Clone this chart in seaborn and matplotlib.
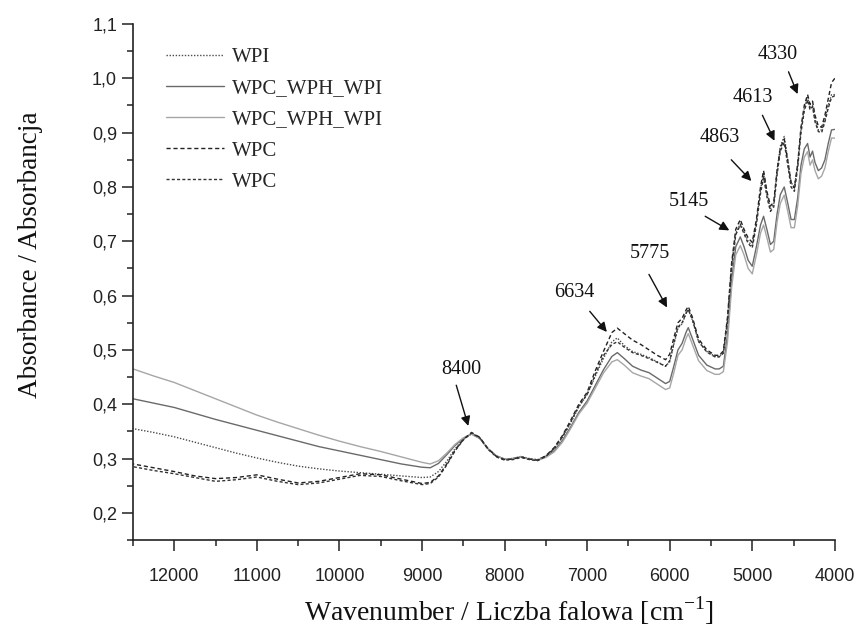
import matplotlib
matplotlib.use("Agg")
import matplotlib.pyplot as plt
import seaborn as sns
from matplotlib.ticker import MultipleLocator, FuncFormatter

# ==========================================
# data
# ==========================================
WN = [12500, 12250, 12000, 11750, 11500, 11250, 11000, 10750, 10500, 10250, 10000, 9750, 9500, 9250, 9000,
      8900, 8800, 8700, 8600, 8500, 8400, 8300, 8200, 8100, 8000, 7900, 7800, 7700, 7600, 7500, 7400, 7300, 7200, 7100, 7000,
      6900, 6800, 6700,
      6634, 6550, 6450, 6350, 6250, 6150, 6050,
      6000, 5950, 5900, 5850, 5800, 5775, 5725, 5650, 5550, 5450, 5400, 5350, 5300, 5250, 5200, 5145,
      5100, 5050, 5000, 4950, 4900, 4863, 4820, 4780, 4740, 4700, 4660, 4613,
      4570, 4530, 4490, 4450, 4410, 4370, 4330,
      4300, 4270, 4240, 4200, 4160, 4120, 4080, 4040, 4000]

WPI = [0.355, 0.348, 0.340, 0.330, 0.320, 0.310, 0.301, 0.293, 0.286, 0.281, 0.277, 0.274, 0.271, 0.268, 0.265,
       0.266, 0.276, 0.295, 0.318, 0.336, 0.346, 0.338, 0.318, 0.305, 0.299, 0.300, 0.304, 0.300, 0.298, 0.305, 0.318, 0.338, 0.365, 0.395, 0.418,
       0.452, 0.485, 0.515,
       0.522, 0.508, 0.497, 0.492, 0.486, 0.478, 0.470,
       0.478, 0.510, 0.540, 0.548, 0.568, 0.575, 0.555, 0.515, 0.497, 0.488, 0.488, 0.495, 0.555, 0.655, 0.715, 0.732,
       0.718, 0.700, 0.692, 0.735, 0.795, 0.825, 0.785, 0.760, 0.768, 0.830, 0.875, 0.893,
       0.850, 0.808, 0.800, 0.840, 0.905, 0.945, 0.965,
       0.945, 0.950, 0.925, 0.905, 0.905, 0.925, 0.950, 0.970, 0.970]

MIX_DARK = [0.410, 0.402, 0.394, 0.383, 0.372, 0.362, 0.352, 0.342, 0.332, 0.322, 0.314, 0.306, 0.298, 0.290, 0.284,
            0.283, 0.291, 0.307, 0.324, 0.337, 0.345, 0.337, 0.318, 0.305, 0.299, 0.300, 0.303, 0.299, 0.297, 0.303, 0.314, 0.333, 0.358, 0.385, 0.406,
            0.435, 0.464, 0.488,
            0.495, 0.484, 0.470, 0.463, 0.458, 0.448, 0.438,
            0.442, 0.470, 0.500, 0.512, 0.533, 0.541, 0.521, 0.490, 0.472, 0.465, 0.465, 0.470, 0.528, 0.628, 0.690, 0.708,
            0.690, 0.665, 0.654, 0.690, 0.730, 0.746, 0.720, 0.694, 0.700, 0.750, 0.786, 0.800,
            0.770, 0.740, 0.740, 0.780, 0.840, 0.870, 0.880,
            0.855, 0.866, 0.845, 0.830, 0.835, 0.850, 0.880, 0.905, 0.906]

MIX_LIGHT = [0.465, 0.452, 0.440, 0.425, 0.410, 0.395, 0.380, 0.367, 0.355, 0.343, 0.332, 0.322, 0.313, 0.303, 0.293,
             0.290, 0.296, 0.310, 0.326, 0.338, 0.345, 0.337, 0.318, 0.305, 0.299, 0.300, 0.303, 0.299, 0.297, 0.302, 0.312, 0.330, 0.355, 0.382, 0.402,
             0.430, 0.458, 0.478,
             0.482, 0.472, 0.458, 0.452, 0.447, 0.437, 0.427,
             0.430, 0.458, 0.490, 0.500, 0.522, 0.530, 0.510, 0.480, 0.462, 0.455, 0.455, 0.460, 0.515, 0.615, 0.675, 0.692,
             0.675, 0.650, 0.640, 0.675, 0.715, 0.730, 0.705, 0.680, 0.685, 0.735, 0.770, 0.785,
             0.755, 0.725, 0.725, 0.765, 0.825, 0.855, 0.865,
             0.840, 0.850, 0.830, 0.815, 0.820, 0.835, 0.865, 0.890, 0.890]

WPC_1 = [0.290, 0.283, 0.276, 0.268, 0.263, 0.265, 0.270, 0.262, 0.255, 0.258, 0.265, 0.272, 0.270, 0.262, 0.254,
         0.256, 0.268, 0.290, 0.315, 0.335, 0.348, 0.339, 0.318, 0.304, 0.298, 0.299, 0.303, 0.299, 0.297, 0.305, 0.320, 0.342, 0.370, 0.400, 0.422,
         0.462, 0.498, 0.532,
         0.540, 0.530, 0.518, 0.510, 0.500, 0.490, 0.482,
         0.492, 0.522, 0.550, 0.558, 0.574, 0.580, 0.560, 0.520, 0.500, 0.490, 0.490, 0.498, 0.560, 0.660, 0.722, 0.740,
         0.722, 0.706, 0.698, 0.740, 0.800, 0.830, 0.790, 0.765, 0.772, 0.830, 0.872, 0.888,
         0.848, 0.808, 0.798, 0.842, 0.910, 0.950, 0.970,
         0.952, 0.958, 0.932, 0.912, 0.910, 0.932, 0.962, 0.992, 1.000]

WPC_2 = [0.285, 0.278, 0.272, 0.265, 0.258, 0.261, 0.266, 0.258, 0.252, 0.255, 0.262, 0.269, 0.267, 0.259, 0.252,
         0.254, 0.266, 0.288, 0.314, 0.334, 0.347, 0.338, 0.317, 0.303, 0.297, 0.298, 0.302, 0.298, 0.296, 0.304, 0.318, 0.340, 0.367, 0.397, 0.418,
         0.455, 0.490, 0.510,
         0.515, 0.505, 0.495, 0.490, 0.484, 0.477, 0.470,
         0.480, 0.512, 0.542, 0.550, 0.568, 0.574, 0.556, 0.516, 0.496, 0.487, 0.487, 0.494, 0.552, 0.652, 0.712, 0.730,
         0.714, 0.696, 0.688, 0.730, 0.788, 0.818, 0.780, 0.755, 0.763, 0.822, 0.866, 0.882,
         0.840, 0.800, 0.792, 0.835, 0.900, 0.940, 0.960,
         0.942, 0.948, 0.920, 0.902, 0.900, 0.920, 0.945, 0.965, 0.968]

SERIES_NAMES = ["WPI", "WPC_WPH_WPI", "WPC_WPH_WPI", "WPC", "WPC"]
SERIES = [WPI, MIX_DARK, MIX_LIGHT, WPC_1, WPC_2]

PEAK_LABELS = ["8400", "6634", "5775", "5145", "4863", "4613", "4330"]

# layout only: (text x, text y, arrow tail x, tail y, tip x, tip y)
PEAK_LAYOUT = [
    (8524, 0.463, 8585, 0.435, 8439, 0.360),
    (7150, 0.606, 6968, 0.571, 6761, 0.533),
    (6239, 0.677, 6251, 0.639, 6032, 0.578),
    (5764, 0.774, 5570, 0.746, 5278, 0.720),
    (5388, 0.891, 5254, 0.850, 5011, 0.811),
    (4998, 0.965, 4877, 0.932, 4731, 0.885),
    (4695, 1.044, 4561, 1.012, 4451, 0.971),
]

STYLES = [
    dict(color="#4a4a4a", linestyle=(0, (1, 1.2)), linewidth=1.0),
    dict(color="#6a6a6a", linestyle="-", linewidth=1.0),
    dict(color="#a6a6a6", linestyle="-", linewidth=1.0),
    dict(color="#222222", linestyle=(0, (3, 2)), linewidth=1.0),
    dict(color="#333333", linestyle=(0, (2.2, 1.6)), linewidth=1.0),
]

SERIF = ["Liberation Serif", "DejaVu Serif"]
SANS = ["Liberation Sans", "DejaVu Sans"]

sns.set_theme(style="ticks")
plt.rcParams["font.family"] = SANS

fig = plt.figure(figsize=(8.58, 6.35), dpi=100)
ax = fig.add_axes([0.155, 0.1496, 0.818, 0.8126])

for name, vals, st in zip(SERIES_NAMES, SERIES, STYLES):
    sns.lineplot(x=WN, y=vals, ax=ax, label=name, **st)

for lab, (tx, ty, ax0, ay0, ax1, ay1) in zip(PEAK_LABELS, PEAK_LAYOUT):
    ax.text(tx, ty, lab, ha="center", va="center", fontsize=14.5, family=SERIF, color="#111111")
    ax.annotate("", xy=(ax1, ay1), xytext=(ax0, ay0),
                arrowprops=dict(arrowstyle="-|>", color="#111111", lw=1.0,
                                mutation_scale=14, shrinkA=0, shrinkB=0))

ax.set_xlim(12500, 4000)
ax.set_ylim(0.15, 1.1)
ax.xaxis.set_major_locator(MultipleLocator(1000))
ax.xaxis.set_minor_locator(MultipleLocator(500))
ax.yaxis.set_major_locator(MultipleLocator(0.1))
ax.yaxis.set_minor_locator(MultipleLocator(0.05))
ax.yaxis.set_major_formatter(FuncFormatter(lambda v, p: f"{v:.1f}".replace(".", ",")))
ax.tick_params(which="major", direction="out", length=8, width=1.1, labelsize=13, colors="#222222")
ax.tick_params(which="minor", direction="out", length=4, width=1.1, colors="#222222")
ax.tick_params(axis="x", pad=12)

for side in ["top", "right"]:
    ax.spines[side].set_visible(False)
for side in ["left", "bottom"]:
    ax.spines[side].set_linewidth(1.2)
    ax.spines[side].set_color("#222222")

ax.set_xlabel("Wavenumber / Liczba falowa [cm$^{\\mathregular{-1}}$]", fontsize=20, family=SERIF, color="#111111")
ax.set_ylabel("Absorbance / Absorbancja", fontsize=19.5, family=SERIF, color="#111111")
ax.xaxis.set_label_coords(0.536, -0.105)
ax.yaxis.set_label_coords(-0.128, 0.552)

leg = ax.legend(loc="upper left", bbox_to_anchor=(0.02, 0.99), frameon=False,
                prop={"family": SERIF, "size": 15}, handlelength=2.8, labelspacing=0.55,
                handletextpad=0.4)

fig.savefig("out.png", dpi=100)
